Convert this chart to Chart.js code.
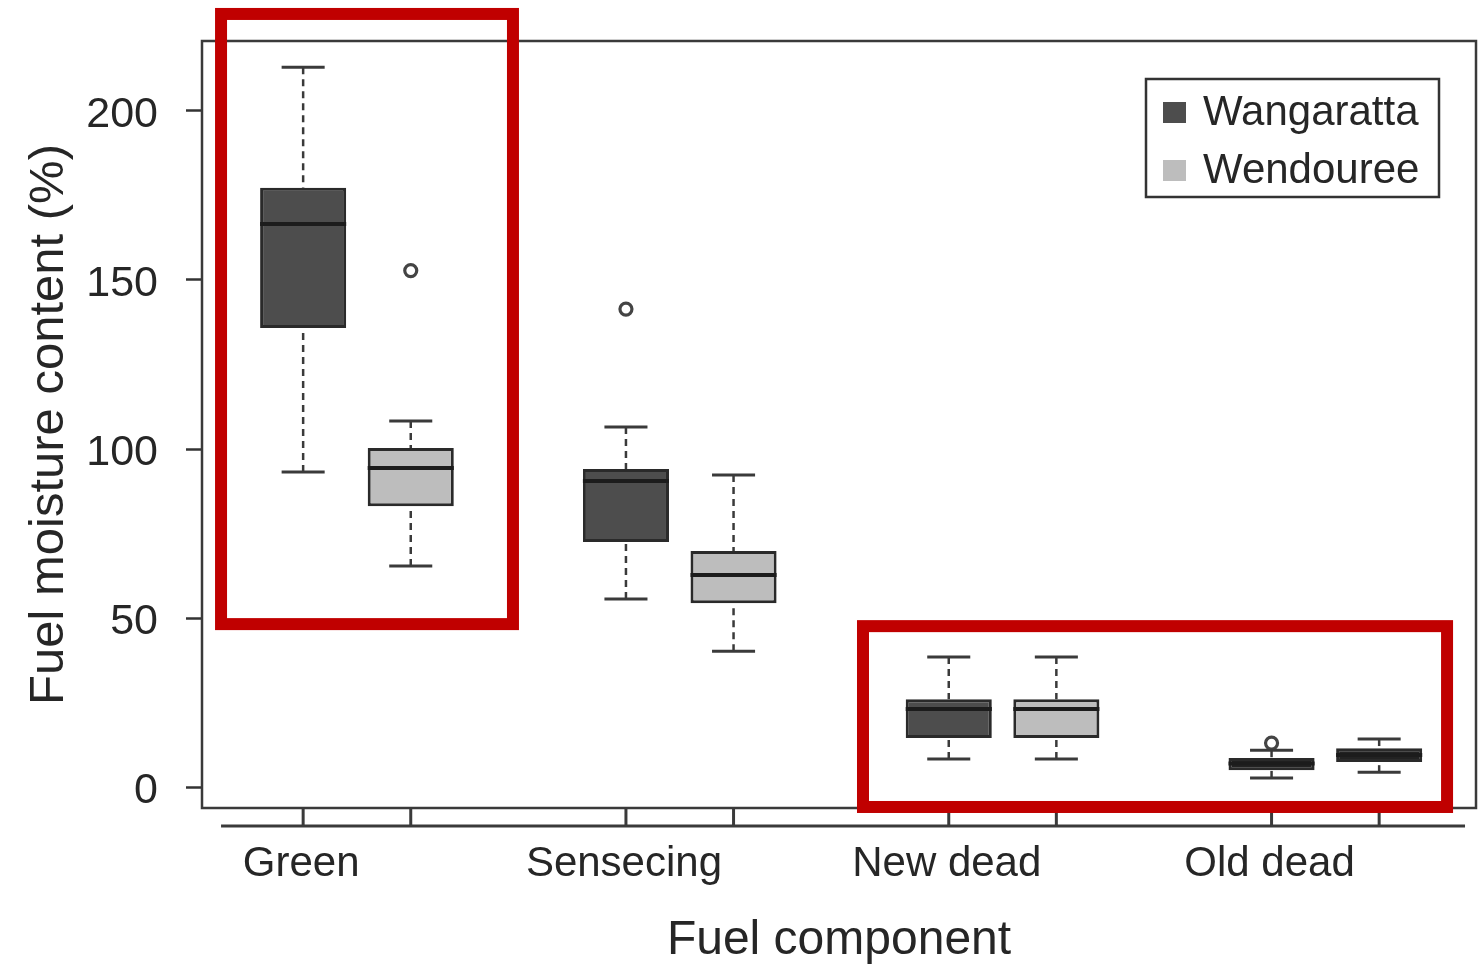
<!DOCTYPE html>
<html><head><meta charset="utf-8">
<script src="https://cdn.jsdelivr.net/npm/chart.js@4.4.1/dist/chart.umd.min.js"></script>
<style>html,body{margin:0;padding:0;background:#fff;overflow:hidden}#wrap{width:1478px;height:965px;position:relative}</style>
</head><body><div id="wrap"><canvas id="c" width="1478" height="965"></canvas></div>
<script>
// ---- data ----
const categories = ['Green', 'Sensecing', 'New dead', 'Old dead'];
const sites = ['Wangaratta', 'Wendouree'];
const wangPos = [1, 4, 7, 10];
const wendPos = [2, 5, 8, 11];
const wangLow  = [93.2, 55.6, 8.3, 2.7];
const wangQ1   = [135.8, 72.5, 14.5, 5.0];
const wangMed  = [166.6, 90.5, 23.1, 7.0];
const wangQ3   = [177.3, 94.1, 26.0, 8.6];
const wangHigh = [212.9, 106.5, 38.5, 10.9];
const wangOut  = [null, 141.4, null, 13.0];
const wendLow  = [65.4, 40.2, 8.3, 4.4];
const wendQ1   = [83.1, 54.4, 14.5, 7.4];
const wendMed  = [94.4, 62.7, 23.1, 9.5];
const wendQ3   = [100.3, 69.8, 26.0, 11.5];
const wendHigh = [108.3, 92.3, 38.5, 14.2];
const wendOut  = [152.8, null, null, null];
const yTicks = [0, 50, 100, 150, 200];
const highlights = [
  {x0: 0.237, x1: 2.95, y0: 228.7, y1: 48.2},
  {x0: 6.203, x1: 11.631, y0: 47.6, y1: -5.9}
];

const FONT = "'Liberation Sans', Arial, Helvetica, sans-serif";
const TXT = '#262626';
const allPos = wangPos.concat(wendPos).sort((a, b) => a - b);

const outliers = [];
wangOut.forEach((v, i) => { if (v !== null) outliers.push({x: wangPos[i], y: v}); });
wendOut.forEach((v, i) => { if (v !== null) outliers.push({x: wendPos[i], y: v}); });

const groups = [
  {ds: 0, pos: wangPos, low: wangLow, q1: wangQ1, med: wangMed, q3: wangQ3, high: wangHigh},
  {ds: 1, pos: wendPos, low: wendLow, q1: wendQ1, med: wendMed, q3: wendQ3, high: wendHigh}
];

function seg(ctx, x1, y1, x2, y2) { ctx.beginPath(); ctx.moveTo(x1, y1); ctx.lineTo(x2, y2); ctx.stroke(); }

const boxPlugin = {
  id: 'boxExtras',
  afterDatasetsDraw(chart) {
    const {ctx, scales: {x, y}} = chart;
    ctx.save();
    groups.forEach(g => {
      const meta = chart.getDatasetMeta(g.ds);
      g.pos.forEach((p, i) => {
        const bar = meta.data[i];
        const cx = x.getPixelForValue(p);
        const w = bar.width;
        const cap = w / 4;
        ctx.strokeStyle = '#3a3a3a';
        ctx.lineWidth = 2.5;
        ctx.setLineDash([7, 5]);
        seg(ctx, cx, y.getPixelForValue(g.high[i]), cx, y.getPixelForValue(g.q3[i]));
        seg(ctx, cx, y.getPixelForValue(g.low[i]), cx, y.getPixelForValue(g.q1[i]));
        ctx.setLineDash([]);
        ctx.lineWidth = 3;
        seg(ctx, cx - cap, y.getPixelForValue(g.high[i]), cx + cap, y.getPixelForValue(g.high[i]));
        seg(ctx, cx - cap, y.getPixelForValue(g.low[i]), cx + cap, y.getPixelForValue(g.low[i]));
        ctx.strokeStyle = '#1c1c1c';
        ctx.lineWidth = 4;
        seg(ctx, cx - w / 2, y.getPixelForValue(g.med[i]), cx + w / 2, y.getPixelForValue(g.med[i]));
      });
    });
    ctx.restore();
  },
  afterDraw(chart) {
    const {ctx, chartArea: a, scales: {x, y}} = chart;
    ctx.save();
    // plot frame
    ctx.strokeStyle = '#3a3a3a';
    ctx.lineWidth = 2.5;
    ctx.strokeRect(a.left, a.top, a.right - a.left, a.bottom - a.top);
    // x axis (offset below the frame)
    const axY = a.bottom + 18;
    ctx.lineWidth = 3;
    seg(ctx, x.getPixelForValue(0.237), axY, x.getPixelForValue(11.798), axY);
    allPos.forEach(p => { const px = x.getPixelForValue(p); seg(ctx, px, a.bottom, px, axY); });
    // category labels
    ctx.fillStyle = TXT;
    ctx.font = '42px ' + FONT;
    ctx.textAlign = 'center';
    ctx.textBaseline = 'middle';
    categories.forEach((c, i) => ctx.fillText(c, x.getPixelForValue(wangPos[i]) - 2, a.bottom + 56));
    ctx.font = '48px ' + FONT;
    ctx.fillText('Fuel component', (a.left + a.right) / 2, a.bottom + 133);
    // legend
    const lw = 293, lh = 118;
    const lx = a.right - 37 - lw, ly = a.top + 38;
    ctx.strokeStyle = '#333';
    ctx.lineWidth = 2.5;
    ctx.strokeRect(lx, ly, lw, lh);
    const cols = ['#4d4d4d', '#bdbdbd'];
    ctx.font = '42px ' + FONT;
    ctx.textAlign = 'left';
    sites.forEach((s, i) => {
      const cy = ly + 33 + i * 58;
      ctx.fillStyle = cols[i];
      ctx.fillRect(lx + 17, cy - 10, 23, 21);
      ctx.fillStyle = TXT;
      ctx.fillText(s, lx + 57, cy + 1);
    });
    // red highlight frames
    ctx.strokeStyle = '#c00000';
    ctx.lineWidth = 12;
    highlights.forEach(h => {
      const x0 = x.getPixelForValue(h.x0), x1 = x.getPixelForValue(h.x1);
      const y0 = y.getPixelForValue(h.y0), y1 = y.getPixelForValue(h.y1);
      ctx.strokeRect(x0, y0, x1 - x0, y1 - y0);
    });
    ctx.restore();
  }
};

new Chart(document.getElementById('c'), {
  type: 'bar',
  data: {
    datasets: [
      {
        label: sites[0],
        data: wangPos.map((p, i) => ({x: p, y: [wangQ1[i], wangQ3[i]]})),
        backgroundColor: ['#4d4d4d', '#4d4d4d', '#4d4d4d', '#222222'],
        borderColor: '#2a2a2a', borderWidth: 3, borderSkipped: false,
        grouped: false, barPercentage: 0.8, categoryPercentage: 1, order: 2
      },
      {
        label: sites[1],
        data: wendPos.map((p, i) => ({x: p, y: [wendQ1[i], wendQ3[i]]})),
        backgroundColor: ['#bdbdbd', '#bdbdbd', '#bdbdbd', '#222222'],
        borderColor: '#2a2a2a', borderWidth: 3, borderSkipped: false,
        grouped: false, barPercentage: 0.8, categoryPercentage: 1, order: 2
      },
      {
        type: 'scatter', label: 'outliers', data: outliers,
        pointStyle: 'circle', pointRadius: 6, borderWidth: 3.2,
        borderColor: '#444', backgroundColor: 'rgba(0,0,0,0)', order: 1
      }
    ]
  },
  options: {
    responsive: false, animation: false, events: [],
    layout: {autoPadding: false, padding: {left: 0, top: 41, right: 2, bottom: 157}},
    plugins: {legend: {display: false}, tooltip: {enabled: false}},
    scales: {
      x: {
        type: 'linear', min: 0.06, max: 11.90, display: false, offset: false,
        afterBuildTicks: s => { s.ticks = allPos.map(v => ({value: v})); }
      },
      y: {
        type: 'linear', min: -6.2, max: 220.7,
        afterBuildTicks: s => { s.ticks = yTicks.map(v => ({value: v})); },
        afterFit: s => { s.width = 202; s.paddingTop = 0; s.paddingBottom = 0; },
        border: {display: false},
        grid: {drawOnChartArea: false, drawTicks: true, tickLength: 16, tickColor: '#333', tickWidth: 2.5},
        ticks: {font: {family: FONT, size: 43}, color: TXT, padding: 28, labelOffset: 4},
        title: {display: true, text: 'Fuel moisture content (%)', color: TXT,
                font: {family: FONT, size: 49}, padding: {top: 20, bottom: 0}}
      }
    }
  },
  plugins: [boxPlugin]
});
</script></body></html>
